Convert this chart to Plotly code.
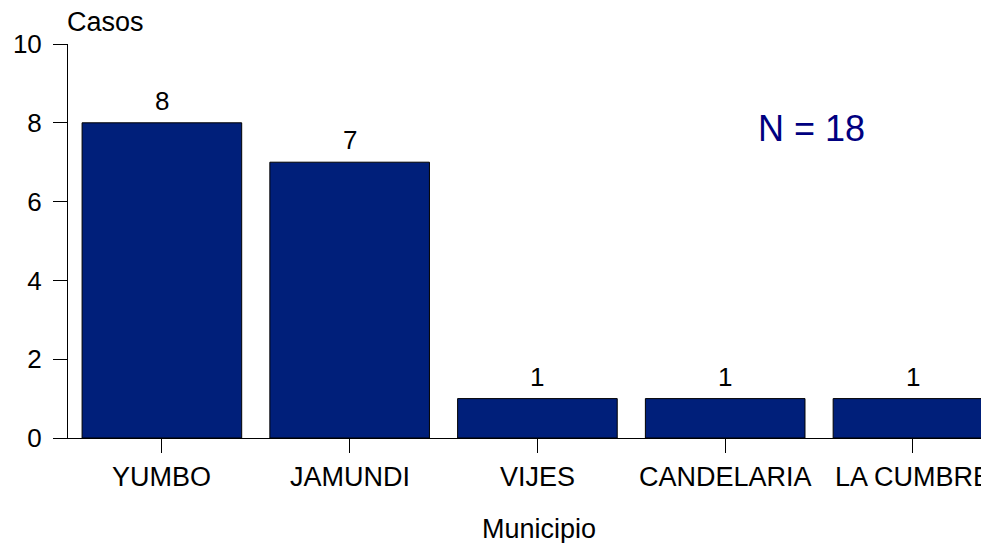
import plotly.graph_objects as go

municipios = ["YUMBO", "JAMUNDI", "VIJES", "CANDELARIA", "LA CUMBRE"]
casos = [8, 7, 1, 1, 1]
total_label = "N = 18"
y_ticks = [0, 2, 4, 6, 8, 10]

FONT = "Liberation Sans, Arial, sans-serif"
BAR_COLOR = "#001F7A"

x_idx = list(range(len(municipios)))

fig = go.Figure()
fig.add_trace(go.Bar(
    x=x_idx, y=casos, width=0.85,
    marker=dict(color=BAR_COLOR, line=dict(color="black", width=1)),
    hoverinfo="skip",
))

annotations = []
for xi, v in zip(x_idx, casos):
    annotations.append(dict(
        x=xi, y=v, xref="x", yref="y", text=str(v), showarrow=False,
        yanchor="bottom", yshift=5, font=dict(size=26, color="black", family=FONT),
    ))
# category labels (drawn as annotations so the clipped last one stays visible)
for xi, name in zip(x_idx, municipios):
    annotations.append(dict(
        x=xi, y=0, xref="x", yref="paper", text=name, showarrow=False,
        xanchor="center", yanchor="top", yshift=-22,
        font=dict(size=27, color="black", family=FONT),
    ))
annotations.append(dict(
    x=0.807, y=0.7855, xref="paper", yref="paper", text=total_label, showarrow=False,
    xanchor="center", yanchor="middle", font=dict(size=36, color="#000080", family=FONT),
))
annotations.append(dict(
    x=0.0, y=1.0, xref="paper", yref="paper", text="Casos", showarrow=False,
    xanchor="left", yanchor="bottom", xshift=-3, yshift=5,
    font=dict(size=27, color="black", family=FONT),
))
annotations.append(dict(
    x=0.5116, y=0.0, xref="paper", yref="paper", text="Municipio", showarrow=False,
    xanchor="center", yanchor="middle", yshift=-91,
    font=dict(size=27, color="black", family=FONT),
))

fig.update_layout(
    template="none",
    width=981, height=535,
    margin=dict(l=60, r=0, t=36, b=105, pad=0),
    paper_bgcolor="white", plot_bgcolor="white",
    showlegend=False,
    font=dict(family=FONT, size=26, color="black"),
    annotations=annotations,
    xaxis=dict(
        range=[-0.5, 4.405], tickmode="array", tickvals=x_idx,
        ticks="outside", ticklen=14, tickwidth=1, tickcolor="black",
        showline=True, linecolor="black", linewidth=1, showgrid=False, zeroline=False,
        automargin=False, showticklabels=False,
    ),
    yaxis=dict(
        range=[0, 10], tickmode="array", tickvals=y_ticks,
        ticks="outside", ticklen=14, tickwidth=1, tickcolor="black",
        showline=True, linecolor="black", linewidth=1, showgrid=False, zeroline=False,
        automargin=False, tickfont=dict(size=26, family=FONT), ticklabelstandoff=6,
    ),
)

fig.write_html("out.html")
